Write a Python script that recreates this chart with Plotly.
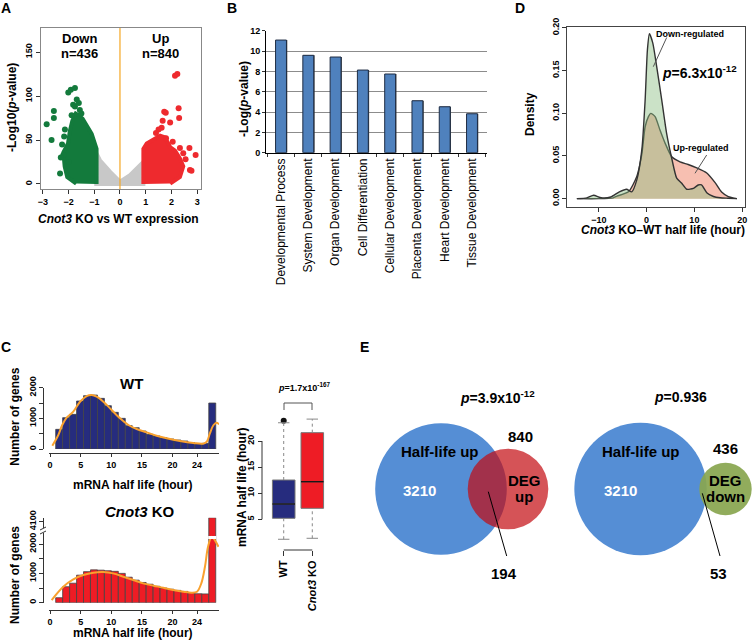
import plotly.graph_objects as go

FONT = "Liberation Sans, Arial, sans-serif"
W, H = 754, 642

# ---------------- data ----------------
# A: volcano plot, outline of the dense clouds plus the scattered points
grey_cloud_x = [-1.0, -0.78, -0.39, 0.0, 0.39, 0.65, 0.91, 0.91, -1.0]
grey_cloud_y = [40, 27, 14, 2.6, 10, 18, 25, 0, 0]
down_cloud_x = [-0.91, -0.91, -1.1, -1.3, -1.45, -1.6, -1.72, -1.85, -1.95, -2.02, -2.2, -2.15, -2.05, -1.7]
down_cloud_y = [0, 40, 57, 66, 74, 78, 80, 72, 60, 46, 36, 20, 8, 0.5]
up_cloud_x = [0.91, 0.91, 1.04, 1.3, 1.56, 1.75, 1.95, 2.14, 2.33, 2.46, 2.33, 1.95]
up_cloud_y = [0, 40, 46, 50, 55, 53, 42, 38, 29, 20, 8, 0.5]
down_pts_x = [-2.85, -2.66, -2.57, -2.57, -2.14, -2.17, -2.33, -2.2, -2.01, -1.91, -1.75,
              -1.82, -1.75, -1.56, -1.88, -1.68, -1.6, -1.5, -2.3, -2.0, -2.25]
down_pts_y = [68, 50, 83, 75, 62, 54, 12, 33, 104, 107, 109, 90, 88, 84, 78, 96, 92, 80, 30, 25, 45]
up_pts_x = [2.14, 2.23, 2.28, 2.3, 1.72, 1.66, 1.95, 1.62, 1.79, 2.7, 2.94, 2.46, 2.33,
            2.72, 2.78, 1.78, 1.5, 1.4, 2.05, 2.55]
up_pts_y = [123, 125, 86, 75, 82, 72, 70, 64, 52, 41, 33, 35, 41, 16, 15, 81, 62, 58, 48, 28]

# B: GO enrichment
go_terms = ["Developmental Process", "System Development", "Organ Development",
            "Cell Differentiation", "Cellular Development", "Placenta Development",
            "Heart Development", "Tissue Development"]
go_logp = [11.08, 9.58, 9.41, 8.13, 7.74, 5.11, 4.52, 3.83]

# D: density of KO-WT half-life change
down_dens_x = [-14.6, -12.5, -11.1, -9.5, -7.5, -5.7, -4.2, -3.1, -2.05, -1.0, -0.31, 0.17, 0.59,
               1.3, 2.13, 3.18, 4.2, 5.27, 6.3, 7.36, 8.4, 9.8, 10.8, 11.5, 12.6, 14.0, 15.4, 17.0, 18.9]
down_dens_y = [0, 0.001, 0.004, 0.001, 0.002, 0.008, 0.011, 0.008, 0.022, 0.057, 0.115, 0.174, 0.193,
               0.182, 0.154, 0.115, 0.076, 0.047, 0.024, 0.018, 0.011, 0.012, 0.016, 0.016, 0.007,
               0.0025, 0.001, 0.0005, 0]
up_dens_x = [-14.6, -10, -7, -6.2, -3.8, -2.05, -1.0, -0.31, 0.38, 0.87, 1.78, 2.82, 3.87, 5.27,
             7.0, 8.7, 10.5, 12.6, 14.3, 15.7, 17.1, 18.9]
up_dens_y = [0, 0, 0.001, 0.003, 0.008, 0.026, 0.052, 0.084, 0.096, 0.0998, 0.096, 0.080, 0.065,
             0.049, 0.043, 0.040, 0.036, 0.030, 0.019, 0.0077, 0.0024, 0]

# C: half-life histograms (23 bins, last bin = capped long half lives)
wt_counts = [641, 1022, 1130, 1565, 1739, 1760, 1652, 1413, 1196, 1000, 761, 696, 587, 478,
             424, 370, 326, 293, 261, 207, 174, 185, 1500]
ko_counts = [170, 545, 665, 940, 1060, 1120, 1110, 1090, 1070, 1000, 870, 770, 690, 630,
             560, 500, 460, 420, 385, 340, 305, 300, 4100]
wt_fit_x = [0.38, 1.36, 2.0, 2.72, 3.8, 4.9, 5.99, 6.8, 7.62, 8.71, 10.07, 11.43, 12.8, 14.15,
            15.8, 17.4, 19.05, 21.2, 23.4, 25.0, 25.6, 26.1, 26.7, 27.2, 27.6]
wt_fit_y = [109, 457, 783, 1022, 1217, 1543, 1728, 1761, 1707, 1543, 1272, 1000, 783, 652,
            543, 435, 348, 261, 196, 174, 239, 511, 783, 859, 804]
ko_fit_x = [0.27, 2.17, 3.8, 5.44, 7.07, 8.7, 10.3, 11.97, 13.6, 15.2, 16.9, 18.5, 20.1, 21.8,
            23.1, 24.0, 24.7, 25.3, 25.8, 26.4, 26.9, 27.5]
ko_fit_y = [91, 545, 795, 943, 1023, 1045, 1000, 886, 773, 659, 580, 511, 432, 375, 341, 375,
            659, 1227, 1909, 2250, 2136, 1909]
hist_ticks = [0, 5, 10, 15, 20, 24]

# C: boxplot of half lives
box_groups = ["WT", "<i>Cnot3</i> KO"]
box_low = [1.17, 1.36]
box_q1 = [5.19, 7.1]
box_med = [7.93, 12.2]
box_q3 = [12.53, 21.6]
box_high = [23.5, 24.2]
wt_outliers = [23.9]

# E: Venn overlaps
halflife_up_only = [3210, 3210]
deg_total = [840, 436]
deg_overlap = [194, 53]
venn_p = ["3.9x10<sup>-12</sup>", "0.936"]

# ---------------- helpers ----------------
TICKFONT = dict(family=FONT, size=9, color="black", weight="bold")


def ann(text, x, y, size=12, color="black", angle=0, bold=True, xanchor="center", yanchor="middle"):
    return dict(text=f"<b>{text}</b>" if bold else text, x=x / W, y=1 - y / H,
                xref="paper", yref="paper", showarrow=False, textangle=angle,
                font=dict(family=FONT, size=size, color=color),
                xanchor=xanchor, yanchor=yanchor)


def seg(x0, y0, x1, y1, color="black", width=1):
    return dict(type="line", xref="paper", yref="paper", x0=x0 / W, y0=1 - y0 / H,
                x1=x1 / W, y1=1 - y1 / H, line=dict(color=color, width=width))


def circle(cx, cy, r, fill):
    return dict(type="circle", xref="paper", yref="paper", x0=(cx - r) / W, x1=(cx + r) / W,
                y0=1 - (cy + r) / H, y1=1 - (cy - r) / H, fillcolor=fill, line=dict(width=0))


def dx(p):
    return p / W


def dy(p):
    return 1 - p / H


def axis(dom, rng, **kw):
    d = dict(domain=dom, range=rng, showgrid=False, zeroline=False, ticks="outside", ticklen=4,
             tickwidth=1, tickcolor="#333", tickfont=TICKFONT, automargin=False, fixedrange=True)
    d.update(kw)
    return d


MINOR = dict(tickmode="array", tickvals=[500, 1500], ticks="outside", ticklen=4,
             tickcolor="#333", tickwidth=1)

fig = go.Figure()
shapes, annotations = [], []

# ---------------- A: volcano ----------------
for cx, cy, col in [(grey_cloud_x, grey_cloud_y, "#c8c8c8"),
                    (down_cloud_x, down_cloud_y, "#137a3c"),
                    (up_cloud_x, up_cloud_y, "#ee2a2e")]:
    fig.add_trace(go.Scatter(x=cx, y=cy, fill="toself", fillcolor=col, mode="lines",
                             line=dict(color=col, width=4), xaxis="x", yaxis="y"))
fig.add_trace(go.Scatter(x=down_pts_x, y=down_pts_y, mode="markers",
                         marker=dict(color="#137a3c", size=6), xaxis="x", yaxis="y"))
fig.add_trace(go.Scatter(x=up_pts_x, y=up_pts_y, mode="markers",
                         marker=dict(color="#ee2a2e", size=6), xaxis="x", yaxis="y"))
shapes.append(dict(type="line", xref="x", yref="y domain", x0=0, x1=0, y0=0, y1=1,
                   line=dict(color="#f5a623", width=1.2)))

# ---------------- B: GO bars ----------------
fig.add_trace(go.Bar(x=go_terms, y=go_logp, width=0.4, offset=-0.17,
                     marker=dict(color="#3a3a3a", line=dict(width=0)), xaxis="x2", yaxis="y2"))
fig.add_trace(go.Bar(x=go_terms, y=go_logp, width=0.4, offset=-0.2,
                     marker=dict(color="#4f81bd", line=dict(color="#1f2d44", width=1)),
                     xaxis="x2", yaxis="y2"))

# ---------------- D: densities ----------------
fig.add_trace(go.Scatter(x=up_dens_x, y=up_dens_y, mode="lines", fill="tozeroy",
                         fillcolor="rgba(240,128,100,0.5)",
                         line=dict(color="#333", width=1.4, shape="spline", smoothing=0.6),
                         xaxis="x3", yaxis="y3"))
fig.add_trace(go.Scatter(x=down_dens_x, y=down_dens_y, mode="lines", fill="tozeroy",
                         fillcolor="rgba(140,190,130,0.45)",
                         line=dict(color="#333", width=1.4, shape="spline", smoothing=0.6),
                         xaxis="x3", yaxis="y3"))

# ---------------- C: histograms ----------------
bin_start, bin_w = 0.93, 1.136
centers = [bin_start + bin_w * (i + 0.5) for i in range(len(wt_counts))]
KO_TOP = 2900
ko_display = [min(v, KO_TOP) for v in ko_counts]
fig.add_trace(go.Bar(x=centers, y=wt_counts, width=bin_w,
                     marker=dict(color="#262c7e", line=dict(color="#444", width=0.8)),
                     xaxis="x4", yaxis="y4"))
fig.add_trace(go.Scatter(x=wt_fit_x, y=wt_fit_y, mode="lines",
                         line=dict(color="#f9a12e", width=2, shape="spline"), xaxis="x4", yaxis="y4"))
fig.add_trace(go.Bar(x=centers, y=ko_display, width=bin_w,
                     marker=dict(color="#ee1c25", line=dict(color="#444", width=0.8)),
                     xaxis="x5", yaxis="y5"))
fig.add_trace(go.Scatter(x=ko_fit_x, y=ko_fit_y, mode="lines",
                         line=dict(color="#f9a12e", width=2, shape="spline"), xaxis="x5", yaxis="y5"))
last = centers[-1]
shapes.append(dict(type="rect", xref="x5", yref="y5", x0=last - bin_w / 2 - 0.1,
                   x1=last + bin_w / 2 + 0.1, y0=2175, y1=2275, fillcolor="white", line=dict(width=0)))
# axis break marks
shapes.append(dict(type="rect", xref="paper", yref="paper", x0=dx(40), x1=dx(47),
                   y0=dy(533), y1=dy(528), fillcolor="white", line=dict(width=0)))
shapes.append(seg(40, 530, 46, 527, "#333"))
shapes.append(seg(40, 534, 46, 531, "#333"))

# ---------------- C: boxplot ----------------
box_fill = ["#262c7e", "#ee1c25"]
for i in range(len(box_groups)):
    fig.add_trace(go.Box(x=[i], q1=[box_q1[i]], median=[box_med[i]], q3=[box_q3[i]],
                         lowerfence=[box_q1[i]], upperfence=[box_q3[i]], width=0.79,
                         fillcolor=box_fill[i], line=dict(color="#777", width=1),
                         whiskerwidth=0, xaxis="x6", yaxis="y6"))
    for y0, y1 in [(box_q3[i], box_high[i]), (box_low[i], box_q1[i])]:
        shapes.append(dict(type="line", xref="x6", yref="y6", x0=i, x1=i, y0=y0, y1=y1,
                           line=dict(color="#888", width=1, dash="dot")))
    for yv in [box_high[i], box_low[i]]:
        shapes.append(dict(type="line", xref="x6", yref="y6", x0=i - 0.2, x1=i + 0.2, y0=yv, y1=yv,
                           line=dict(color="#888", width=1)))
    shapes.append(dict(type="line", xref="x6", yref="y6", x0=i - 0.395, x1=i + 0.395,
                       y0=box_med[i], y1=box_med[i], line=dict(color="#111", width=1.3)))
fig.add_trace(go.Scatter(x=[0] * len(wt_outliers), y=wt_outliers, mode="markers",
                         marker=dict(color="#111", size=6), xaxis="x6", yaxis="y6"))
shapes.append(dict(type="line", xref="x6", yref="paper", x0=0, x1=1, y0=dy(550), y1=dy(550),
                   line=dict(color="#333", width=1)))
shapes.append(dict(type="line", xref="paper", yref="y6", x0=dx(262), x1=dx(262), y0=5, y1=20,
                   line=dict(color="#333", width=1)))
for a, b in [((284, 410), (284, 403)), ((284, 403), (312, 403)), ((312, 403), (312, 410))]:
    shapes.append(seg(a[0], a[1], b[0], b[1], "#555"))
annotations.append(ann("<i>p</i>=1.7x10<sup>-167</sup>", 304, 387, 9))

# ---------------- E: Venn ----------------
shapes.append(circle(441, 489, 65.8, "#558ed5"))
shapes.append(circle(508, 489, 40.3, "rgba(195,10,15,0.7)"))
shapes.append(circle(640.5, 489, 66.2, "#558ed5"))
shapes.append(circle(725.5, 489, 26.2, "rgba(137,166,80,0.93)"))
shapes.append(seg(488.3, 491.7, 506.7, 556))
shapes.append(seg(702.3, 493.3, 720, 556))
annotations += [
    ann("Half-life up", 439.5, 451.7, 15), ann(str(halflife_up_only[0]), 419.7, 490, 15, "white"),
    ann(str(deg_total[0]), 520, 436.7, 15), ann("DEG", 524, 480, 15), ann("up", 524, 496, 15),
    ann(str(deg_overlap[0]), 504, 573.3, 15), ann(f"<i>p</i>={venn_p[0]}", 497, 396.7, 14),
    ann("Half-life up", 641, 451.7, 15), ann(str(halflife_up_only[1]), 620.7, 490, 15, "white"),
    ann(str(deg_total[1]), 725, 448.3, 15), ann("DEG", 725, 480, 15), ann("down", 725, 496, 15),
    ann(str(deg_overlap[1]), 718.3, 573.3, 15), ann(f"<i>p</i>={venn_p[1]}", 680, 396.7, 14),
]

# ---------------- text ----------------
annotations += [
    ann("A", 6, 8, 14), ann("B", 232, 8, 14), ann("D", 520, 7.5, 14),
    ann("C", 6, 347, 14), ann("E", 364, 347, 14),
    # A
    ann("Down", 79, 39, 13), ann("n=436", 79, 53.5, 13),
    ann("Up", 160, 39, 13), ann("n=840", 160, 53.5, 13),
    ann("-Log10(<i>p</i>-value)", 12, 108, 12, angle=-90),
    ann("<i>Cnot3</i> KO vs WT expression", 118, 219, 12),
    # B
    ann("-Log(<i>p</i>-value)", 244, 99, 12, angle=-90),
    # D
    ann("Down-regulated", 690, 33.5, 9), ann("Up-regulated", 701, 148, 9),
    ann("<i>p</i>=6.3x10<sup>-12</sup>", 699, 71.7, 14),
    ann("Density", 530, 114, 12, angle=-90),
    ann("<i>Cnot3</i> KO\u2013WT half life (hour)", 663, 230, 12),
    # C
    ann("WT", 131.7, 383.3, 15), ann("<i>Cnot3</i> KO", 140, 511.7, 15),
    ann("Number of genes", 15, 416.7, 12, angle=-90), ann("Number of genes", 15, 575, 12, angle=-90),
    ann("mRNA half life (hour)", 133, 485, 12), ann("mRNA half life (hour)", 133, 632.5, 12),
    ann("mRNA half life (hour)", 242, 487, 12, angle=-90),
]
shapes.append(seg(666.7, 37.5, 653.3, 66.7, "#555"))
shapes.append(seg(706.7, 155, 695, 173.3, "#555"))

# ---------------- layout ----------------
fig.update_layout(
    width=W, height=H, margin=dict(l=0, r=0, t=0, b=0),
    paper_bgcolor="white", plot_bgcolor="white", showlegend=False, barmode="overlay",
    shapes=shapes, annotations=annotations,
    xaxis=axis([dx(41), dx(201)], [-3.07, 3.15], tickvals=list(range(-3, 4)), showline=True,
               mirror=True, linecolor="#888", anchor="y"),
    yaxis=axis([dy(189), dy(28)], [-5.7, 177.3], tickvals=[0, 50, 100, 150], tickangle=-90,
               showline=True, mirror=True, linecolor="#888", anchor="x"),
    xaxis2=axis([dx(266), dx(487)], [-0.55, 7.55], type="category", tickangle=-90,
                tickson="boundaries", ticklen=3, showline=True, linecolor="black", anchor="y2",
                tickfont=dict(family=FONT, size=12, color="black")),
    yaxis2=axis([dy(152.7), dy(30.7)], [0, 12], dtick=2, tick0=0, ticklen=3, showgrid=True,
                gridcolor="#8c8c8c", showline=True, linecolor="black", anchor="x2"),
    xaxis3=axis([dx(567.3), dx(745)], [-16.6, 20.6], tickvals=[-10, 0, 10, 20], showline=True,
                mirror=True, linecolor="#444", anchor="y3"),
    yaxis3=axis([dy(206.7), dy(26.7)], [-0.0094, 0.2012], tickvals=[0, 0.05, 0.1, 0.15, 0.2],
                tickformat=".2f", tickangle=-90, showline=True, mirror=True, linecolor="#444",
                anchor="x3"),
    xaxis4=axis([dx(49), dx(219)], [-0.163, 27.59], tickvals=hist_ticks, showline=True,
                linecolor="#333", anchor="free", position=dy(453.3), ticklen=3),
    yaxis4=axis([dy(449), dy(387.7)], [0, 2000], tickvals=[0, 1000, 2000], minor=MINOR,
                tickangle=-90, showline=True, linecolor="#333", anchor="free", position=dx(43.3)),
    xaxis5=axis([dx(49), dx(219)], [-0.163, 27.59], tickvals=hist_ticks, showline=True,
                linecolor="#333", anchor="free", position=dy(610), ticklen=3),
    yaxis5=axis([dy(602.7), dy(517.7)], [0, KO_TOP], tickvals=[0, 1000, 2000, 2764],
                ticktext=["0", "1000", "2000", "4100"], minor=MINOR, tickangle=-90, showline=True,
                linecolor="#333", anchor="free", position=dx(43.3)),
    xaxis6=axis([dx(268), dx(328)], [-0.55, 1.55], tickvals=[0, 1], ticktext=box_groups,
                tickangle=-90, ticklen=5, anchor="free", position=dy(550),
                tickfont=dict(family=FONT, size=11, color="black", weight="bold")),
    yaxis6=axis([dy(548), dy(412)], [-0.5, 25.56], tickvals=[5, 10, 15, 20], tickangle=-90,
                anchor="free", position=dx(262)),
)

# the page body has a default 8px margin; drop it so the figure sits at the window origin
fig.write_html("out.html", config={"displayModeBar": False},
               post_script="document.body.style.margin='0';")
